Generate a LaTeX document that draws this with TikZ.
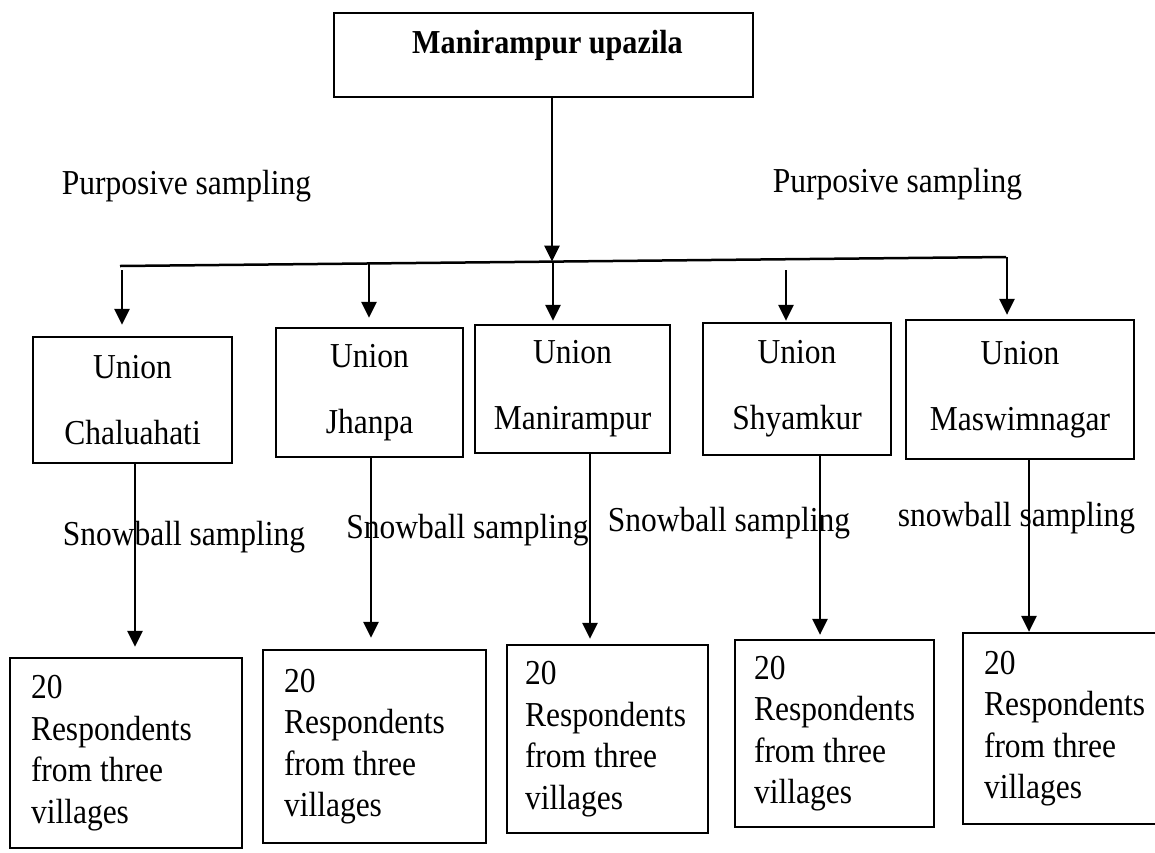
\documentclass[tikz,border=0pt]{standalone}
\usepackage{fontspec}
\setmainfont[FakeStretch=0.9]{Liberation Serif}
\usetikzlibrary{arrows.meta}
\begin{document}
\begin{tikzpicture}[x=1pt,y=-1pt,
  conn/.style={line width=2.5pt},
  arr/.style={conn,-{Triangle[length=16pt,width=15pt]}},
  boxstyle/.style={draw,line width=2.3pt,inner sep=0pt},
  ubox/.style={boxstyle,align=center,font=\fontsize{35}{66}\selectfont},
  rbox/.style={boxstyle,align=flush left,inner ysep=0pt,inner xsep=21pt,font=\fontsize{35}{41.5}\selectfont},
  lab/.style={inner sep=0pt,font=\fontsize{35}{40}\selectfont},
]
\useasboundingbox (0,0) rectangle (1155,852);

% top box
\node[boxstyle,minimum width=419pt,minimum height=84pt,text height=24pt,text depth=28pt,
      font=\bfseries\fontsize{33.5}{36}\selectfont] (title) at (543.5,55) {\hspace*{8pt}Manirampur upazila};

% purposive labels
\node[lab] (pl) at (186.5,186) {Purposive sampling};
\node[lab] (pr) at (897.5,184) {Purposive sampling};

% bar
\coordinate (barL) at (120,266);
\coordinate (barR) at (1006,257);
\draw[conn] (barL) -- (barR);
\coordinate (hub) at (552,261.6);
\draw[arr] (title.south -| hub) -- (hub);

% union boxes
\node[ubox,minimum width=199pt,minimum height=126pt] (u1) at (132.5,400) {Union\\Chaluahati};
\node[ubox,minimum width=187pt,minimum height=129pt] (u2) at (369.5,392.5) {Union\\Jhanpa};
\node[ubox,minimum width=195pt,minimum height=128pt] (u3) at (572.5,389) {Union\\Manirampur};
\node[ubox,minimum width=188pt,minimum height=132pt] (u4) at (797,389) {Union\\Shyamkur};
\node[ubox,minimum width=228pt,minimum height=139pt] (u5) at (1020,389.5) {Union\\Maswimnagar};

% branch arrows
\coordinate (b1) at (122,266);
\coordinate (b2) at (369,263.5);
\coordinate (b3) at (553,261.6);
\coordinate (b4) at (786,259.2);
\coordinate (b5) at (1007,257);
\draw[arr,shorten <=4pt,shorten >=11pt] (b1) -- (b1 |- u1.north);
\draw[arr,shorten >=9pt] (b2) -- (b2 |- u2.north);
\draw[arr,shorten >=3pt] (b3) -- (b3 |- u3.north);
\draw[arr,shorten <=11pt,shorten >=1pt] (b4) -- (b4 |- u4.north);
\draw[arr,shorten >=4pt] (b5) -- (b5 |- u5.north);

% respondent boxes
\node[rbox,minimum height=190pt,text width=190pt] (r1) at (126,753) {20\\Respondents\\from three\\villages};
\node[rbox,minimum height=193pt,text width=181pt] (r2) at (374.5,746.5) {20\\Respondents\\from three\\villages};
\node[rbox,inner xsep=18pt,minimum height=188pt,text width=165pt] (r3) at (607.5,739) {20\\Respondents\\from three\\villages};
\node[rbox,inner xsep=19pt,minimum height=187pt,text width=161pt] (r4) at (834.5,733.5) {20\\Respondents\\from three\\villages};
\node[rbox,minimum height=191pt,text width=162pt] (r5) at (1065,728.5) {20\\Respondents\\from three\\villages};

% lower arrows
\coordinate (c1) at (135,0);
\coordinate (c2) at (371,0);
\coordinate (c3) at (590,0);
\coordinate (c4) at (820,0);
\coordinate (c5) at (1029,0);
\draw[arr,shorten >=10pt] (u1.south -| c1) -- (r1.north -| c1);
\draw[arr,shorten >=11pt] (u2.south -| c2) -- (r2.north -| c2);
\draw[arr,shorten >=5pt] (u3.south -| c3) -- (r3.north -| c3);
\draw[arr,shorten >=4pt] (u4.south -| c4) -- (r4.north -| c4);
\draw[arr] (u5.south -| c5) -- (r5.north -| c5);

% snowball labels
\node[lab] (s1) at (184,537) {Snowball sampling};
\node[lab] (s2) at (467.5,530) {Snowball sampling};
\node[lab] (s3) at (729,523) {Snowball sampling};
\node[lab] (s4) at (1016.5,518) {snowball sampling};
\end{tikzpicture}
\end{document}
